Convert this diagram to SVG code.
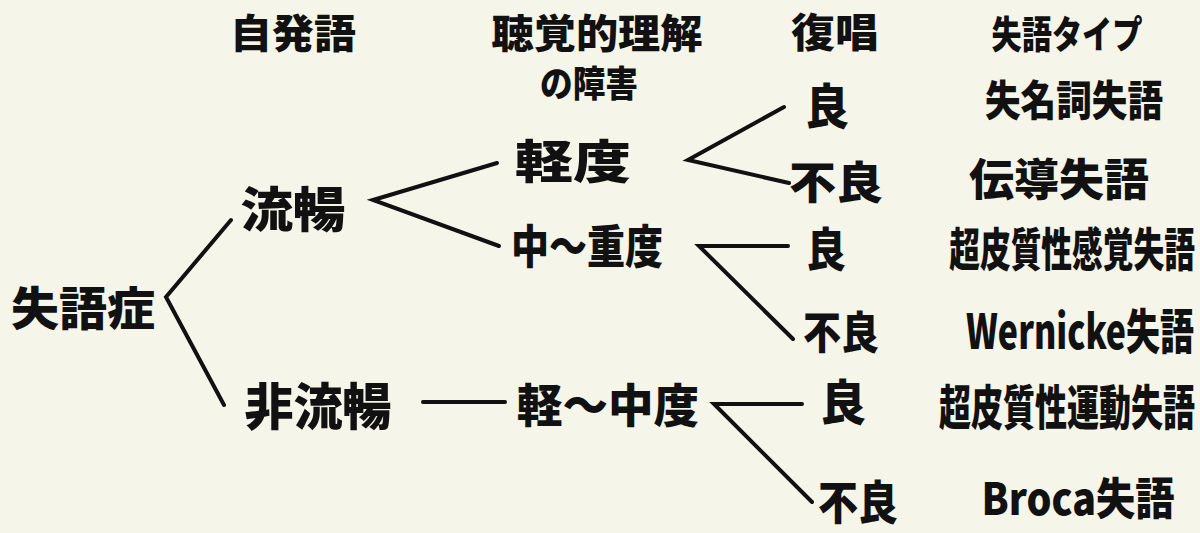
<svg xmlns="http://www.w3.org/2000/svg" width="1200" height="533" viewBox="0 0 1200 533">
<style>
.t{font-family:"Noto Sans CJK JP","Noto Sans",sans-serif;font-weight:900;fill:#111;text-anchor:middle;dominant-baseline:central}
.e{text-anchor:end}
.c{fill:none;stroke:#111;stroke-width:4;stroke-linecap:round;stroke-linejoin:miter}
</style>
<rect width="1200" height="533" fill="#f5f5ea"/>
<g id="headers">
<g id="h-spont"><text class="t" x="293" y="31" font-size="40" textLength="126" lengthAdjust="spacingAndGlyphs">自発語</text></g>
<g id="h-comp"><text class="t" x="597" y="31" font-size="40" textLength="211" lengthAdjust="spacingAndGlyphs">聴覚的理解</text><text class="t" x="589" y="81" font-size="36" textLength="98" lengthAdjust="spacingAndGlyphs">の障害</text></g>
<g id="h-rep"><text class="t" x="835" y="30" font-size="40" textLength="88" lengthAdjust="spacingAndGlyphs">復唱</text></g>
<g id="h-type"><text class="t" x="1067" y="31" font-size="38" textLength="151" lengthAdjust="spacingAndGlyphs">失語タイプ</text></g>
</g>
<g id="n-root"><text class="t" x="83" y="305" font-size="46" textLength="144" lengthAdjust="spacingAndGlyphs">失語症</text></g>
<g id="n-fluent"><text class="t" x="293" y="206" font-size="48" textLength="105" lengthAdjust="spacingAndGlyphs">流暢</text></g>
<g id="n-nonfluent"><text class="t" x="318" y="403" font-size="50" textLength="147" lengthAdjust="spacingAndGlyphs">非流暢</text></g>
<g id="n-mild"><text class="t" x="573" y="158" font-size="46" textLength="116" lengthAdjust="spacingAndGlyphs">軽度</text></g>
<g id="n-modsev"><text class="t" x="587" y="243" font-size="46" textLength="152" lengthAdjust="spacingAndGlyphs">中～重度</text></g>
<g id="n-mildmod"><text class="t" x="608" y="402" font-size="46" textLength="182" lengthAdjust="spacingAndGlyphs">軽～中度</text></g>
<g id="n-good1"><text class="t" x="827" y="103" font-size="48" textLength="44" lengthAdjust="spacingAndGlyphs">良</text></g>
<g id="n-poor1"><text class="t" x="836" y="180" font-size="44" textLength="94" lengthAdjust="spacingAndGlyphs">不良</text></g>
<g id="n-good2"><text class="t" x="826" y="246" font-size="46" textLength="40" lengthAdjust="spacingAndGlyphs">良</text></g>
<g id="n-poor2"><text class="t" x="841" y="330" font-size="44" textLength="76" lengthAdjust="spacingAndGlyphs">不良</text></g>
<g id="n-good3"><text class="t" x="843" y="399" font-size="48" textLength="46" lengthAdjust="spacingAndGlyphs">良</text></g>
<g id="n-poor3"><text class="t" x="858" y="499" font-size="46" textLength="80" lengthAdjust="spacingAndGlyphs">不良</text></g>
<g id="t-anomic"><text class="t" x="1074" y="97" font-size="42" textLength="178" lengthAdjust="spacingAndGlyphs">失名詞失語</text></g>
<g id="t-conduction"><text class="t" x="1059" y="177" font-size="44" textLength="180" lengthAdjust="spacingAndGlyphs">伝導失語</text></g>
<g id="t-tcs"><text class="t e" transform="translate(1195,246) scale(0.668,1)" x="0" y="0" font-size="46" textLength="368" lengthAdjust="spacingAndGlyphs">超皮質性感覚失語</text></g>
<g id="t-wernicke"><text class="t e" transform="translate(1194,328) scale(0.71,1)" x="0" y="0" font-size="48" textLength="321" lengthAdjust="spacingAndGlyphs">Wernicke失語</text></g>
<g id="t-tcm"><text class="t e" transform="translate(1195,404) scale(0.667,1)" x="0" y="0" font-size="48" textLength="384" lengthAdjust="spacingAndGlyphs">超皮質性運動失語</text></g>
<g id="t-broca"><text class="t" x="1078" y="496" font-size="44" textLength="193" lengthAdjust="spacingAndGlyphs">Broca失語</text></g>
<g id="connectors">
<polyline class="c" points="231,220 166,297 224,405"/>
<polyline class="c" points="497,163 373,200 499,246"/>
<polyline class="c" points="784,107 688,160 789,183"/>
<polyline class="c" points="788,246 699,246 793,339"/>
<line class="c" x1="423" y1="402" x2="505" y2="402"/>
<polyline class="c" points="802,404 714,404 812,502"/>
</g>
</svg>
